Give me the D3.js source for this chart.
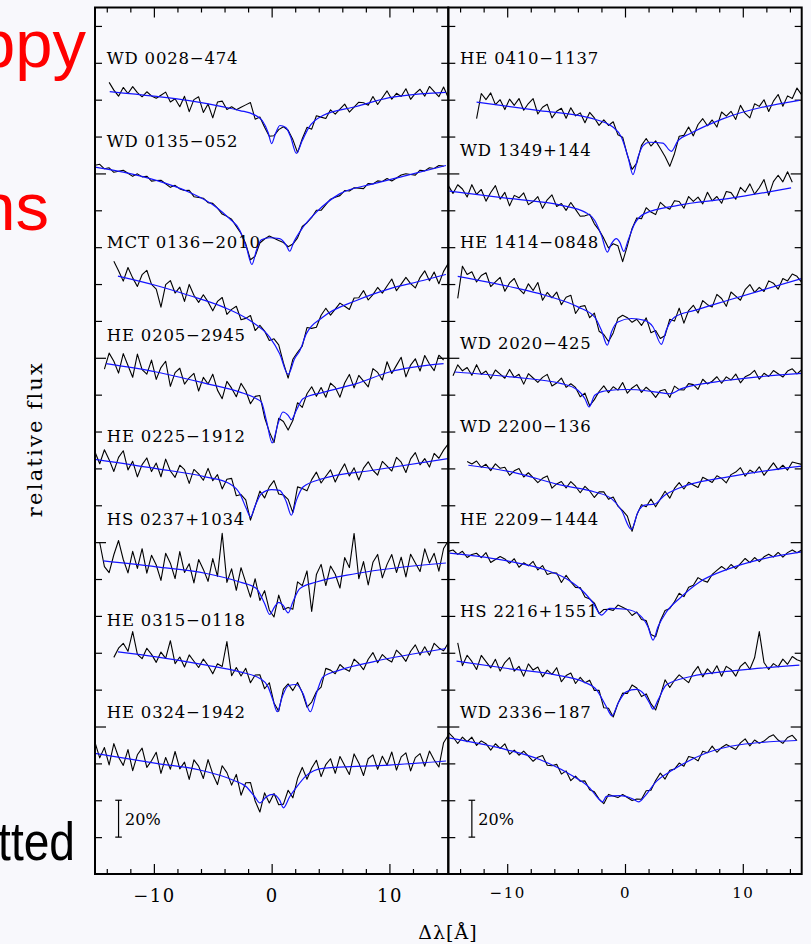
<!DOCTYPE html>
<html>
<head>
<meta charset="utf-8">
<script src="https://cdn.jsdelivr.net/npm/d3@7"></script>
<style>
  body { margin: 0; background: #f8f8fc; }
  svg { display: block; }
</style>
</head>
<body>
<script>
// star names, the first 8 are in the left panel
const stars = [
  "WD 0028\u2212474", "WD 0135\u2212052", "MCT 0136\u22122010", "HE 0205\u22122945",
  "HE 0225\u22121912", "HS 0237+1034", "HE 0315\u22120118", "HE 0324\u22121942",
  "HE 0410\u22121137", "WD 1349+144", "HE 1414\u22120848", "WD 2020\u2212425",
  "WD 2200\u2212136", "HE 2209\u22121444", "HS 2216+1551", "WD 2336\u2212187"
];
// where each name sits (relative flux)
const labelLevel = [4.596, 4.141, 3.593, 3.089, 2.542, 2.092, 1.545, 1.046,
                    4.596, 4.092, 3.593, 3.046, 2.599, 2.092, 1.593, 1.046];

// model fits (blue), [delta lambda, relative flux]
const fits = [
  [[-13.75,4.444],[-10,4.419],[-7,4.395],[-4,4.360],[-2.7,4.341],[-1.5,4.319],[-0.8,4.287],[-0.3,4.222],[0,4.162],[0.3,4.211],[0.7,4.260],[1.2,4.249],[1.6,4.200],[2.1,4.109],[2.6,4.178],[3.1,4.243],[4.35,4.314],[7.2,4.363],[10,4.411],[14.8,4.440]],
  [[-15,4.034],[-12.6,4.007],[-9.8,3.962],[-7,3.898],[-4.7,3.817],[-3.6,3.756],[-2.7,3.691],[-2.15,3.600],[-1.67,3.506],[-1.3,3.582],[-0.87,3.640],[-0.17,3.651],[0.68,3.646],[1.25,3.609],[1.53,3.578],[1.87,3.627],[2.66,3.708],[3.8,3.790],[5.77,3.889],[8.6,3.943],[11.4,3.988],[14.8,4.043]],
  [[-13.05,3.443],[-9.8,3.392],[-7,3.338],[-4.1,3.275],[-1.87,3.203],[-0.17,3.112],[0.68,3.022],[1.4,2.910],[1.95,2.995],[2.4,3.040],[2.95,3.131],[4.36,3.221],[7.2,3.311],[10,3.374],[12.85,3.419],[14.8,3.452]],
  [[-14.05,2.968],[-9.8,2.923],[-5.55,2.860],[-2.7,2.814],[-1.3,2.778],[-0.87,2.760],[-0.45,2.661],[0.05,2.538],[0.54,2.643],[0.96,2.706],[1.4,2.688],[1.67,2.664],[2.1,2.715],[2.66,2.778],[4.36,2.812],[7.2,2.860],[10,2.923],[14.6,2.968]],
  [[-15,2.449],[-9.8,2.399],[-5.55,2.353],[-3.6,2.318],[-2.7,2.263],[-2.15,2.182],[-1.78,2.137],[-1.44,2.191],[-0.87,2.263],[0,2.285],[0.68,2.281],[1.25,2.218],[1.67,2.146],[2.1,2.227],[2.66,2.299],[4.36,2.345],[8.6,2.390],[15,2.453]],
  [[-14.3,1.898],[-9.8,1.866],[-5.55,1.830],[-2.7,1.784],[-1.3,1.749],[-0.6,1.667],[-0.17,1.608],[0.25,1.649],[0.6,1.673],[0.96,1.658],[1.4,1.616],[1.8,1.676],[2.4,1.749],[3.8,1.784],[7.2,1.830],[14.8,1.887]],
  [[-13.05,1.405],[-9.8,1.378],[-5.55,1.333],[-2.7,1.296],[-1,1.261],[-0.3,1.215],[0.11,1.143],[0.48,1.080],[0.9,1.161],[1.4,1.221],[2.1,1.228],[2.66,1.179],[3.28,1.080],[3.8,1.179],[4.36,1.269],[5.77,1.306],[8.6,1.351],[14.8,1.423]],
  [[-15,0.854],[-9.8,0.800],[-6.1,0.764],[-3.3,0.710],[-2.15,0.673],[-1.44,0.619],[-1.0,0.586],[-0.45,0.619],[0.1,0.632],[0.68,0.601],[1.0,0.559],[1.53,0.619],[2.1,0.670],[2.9,0.731],[4.36,0.773],[10,0.791],[14.8,0.813]],
  [[-12.6,4.387],[-7.25,4.341],[-3.0,4.301],[-1.0,4.250],[-0.3,4.196],[0.26,4.088],[0.68,3.994],[1.1,4.088],[1.53,4.151],[2.1,4.169],[3.2,4.164],[3.94,4.120],[4.5,4.178],[5.5,4.215],[8.3,4.296],[14.8,4.396]],
  [[-14.9,3.904],[-9.65,3.863],[-5.4,3.827],[-3.4,3.790],[-2.57,3.745],[-2.0,3.664],[-1.5,3.573],[-1.15,3.619],[-0.73,3.646],[-0.45,3.627],[-0.1,3.577],[0.26,3.637],[0.82,3.727],[1.67,3.782],[4.5,3.827],[8.75,3.863],[14.1,3.922]],
  [[-14.2,3.442],[-9.65,3.384],[-6.8,3.339],[-4.0,3.276],[-2.57,3.221],[-2.0,3.149],[-1.5,3.068],[-1.15,3.140],[-0.6,3.194],[0.54,3.213],[1.67,3.203],[2.38,3.167],[3.09,3.073],[3.5,3.149],[4.22,3.221],[5.9,3.257],[8.75,3.312],[11.6,3.366],[14.98,3.429]],
  [[-14.45,2.923],[-9.65,2.896],[-5.4,2.860],[-4.0,2.824],[-3.4,2.778],[-3.05,2.733],[-2.57,2.797],[-1.72,2.820],[0.26,2.828],[2.24,2.818],[3.8,2.805],[4.8,2.833],[8.75,2.878],[15,2.915]],
  [[-13.3,2.417],[-9.65,2.381],[-5.4,2.309],[-2.57,2.272],[-1.15,2.236],[-0.3,2.173],[0.54,2.069],[1.1,2.164],[1.67,2.201],[2.5,2.206],[3.37,2.255],[4.5,2.291],[8.75,2.354],[15,2.412]],
  [[-14.9,1.940],[-9.65,1.894],[-6.8,1.850],[-4.8,1.795],[-3.4,1.723],[-2.7,1.669],[-2.0,1.604],[-1.3,1.641],[0.1,1.636],[1.25,1.604],[1.95,1.541],[2.38,1.469],[2.8,1.541],[3.5,1.620],[4.65,1.696],[6.3,1.783],[8.75,1.854],[11.6,1.908],[15,1.947]],
  [[-14.3,1.355],[-10.1,1.316],[-5.8,1.279],[-3.55,1.243],[-2.4,1.198],[-1.58,1.107],[-1.1,1.058],[-0.6,1.125],[0.1,1.188],[0.96,1.201],[1.67,1.171],[2.1,1.125],[2.38,1.094],[2.8,1.143],[3.5,1.225],[5.5,1.270],[9.75,1.306],[14.8,1.333]],
  [[-15,0.938],[-10.1,0.875],[-7.25,0.821],[-4.4,0.730],[-3.0,0.667],[-2.3,0.612],[-1.92,0.591],[-1.58,0.621],[-0.45,0.625],[0.68,0.607],[1.16,0.591],[1.67,0.621],[2.66,0.702],[4.08,0.765],[6.9,0.856],[9.75,0.901],[14.55,0.924]]
];

// observed spectra (black): first wavelength, then flux minus fit in percent, every 0.4 A
const obsStep = 0.4;
const obsStart = [-13.8, -15, -13.4, -14.2, -15, -14.6, -13.4, -15,
                  -12.6, -15, -14.2, -14.6, -13.4, -15, -14.2, -15];
const obsResid = [
  [5,1,-2,3,0,4,1,-1,2,0,-1,1,3,-2,0,-4,2,-6,1,3,-5,0,-7,2,3,-1,1,0,2,4,6,-2,1,-1,0,1,-1,0,1,2,-1,1,2,-2,3,0,-2,2,-1,1,3,-2,0,2,1,-1,3,-2,1,4,-1,2,0,4,-2,1,3,-1,4,1,-2,3,-3],
  [1,2,0,1,-1,0,1,0,-1,1,0,1,-1,0,1,0,-1,1,0,0,1,-1,0,1,0,1,0,-1,0,1,0,0,1,0,-1,0,0,1,0,-1,0,1,0,-1,1,0,0,1,-1,0,1,0,-1,1,0,1,0,-1,1,0,1,0,1,-1,0,1,1,0,-1,1,0,1,0,1,0],
  [8,3,-2,6,1,-3,4,7,0,-2,-11,2,5,-1,3,-4,6,1,-2,3,0,-4,2,5,-3,1,4,-2,0,3,-3,2,1,-2,3,4,0,-2,2,1,-1,3,0,-2,2,4,-1,1,3,0,-3,2,1,4,-2,0,3,-1,2,5,-2,1,4,0,-3,2,5,-1,3,-4,2,6],
  [-3,6,2,-4,7,1,-5,8,0,-2,6,-4,3,7,-6,2,5,-3,1,4,-5,3,0,6,-2,-6,4,1,-3,5,2,-4,1,3,-2,0,-3,2,-5,-8,-2,3,-4,2,5,-1,3,-3,4,1,-5,2,6,-2,4,0,-4,5,2,-3,6,-1,3,7,-4,2,5,-2,6,1,-3,5,2],
  [4,-2,6,1,-5,3,7,-3,2,-6,1,5,-2,3,-4,6,0,-3,4,2,-5,3,1,-2,5,-1,3,-4,2,4,-3,1,4,-2,0,3,-3,2,5,-2,1,4,-1,6,0,-3,2,5,-2,1,4,-3,2,6,-1,3,-4,2,5,0,-3,4,1,-2,5,2,-4,3,6,-1,2,-3,4,1,5,8],
  [10,-3,-6,4,12,2,-5,7,-2,9,-4,6,1,-7,8,3,-5,10,-1,4,-6,7,2,-4,9,0,24,-2,6,-5,8,1,-6,5,-3,7,2,-5,4,-2,3,-4,6,1,8,-15,4,9,-3,7,2,-6,10,4,22,-3,6,-7,5,9,-4,3,8,-2,6,-5,7,2,-3,9,1,6,-4,8,12],
  [-3,2,5,1,12,0,-2,4,1,-3,3,0,10,-2,2,-3,4,1,-2,3,0,-4,2,1,15,-3,2,-2,3,-4,1,2,-3,4,0,-2,3,1,-3,2,0,-2,3,1,-3,4,2,-1,3,0,-2,4,1,-3,2,5,-1,3,0,-2,4,1,-3,2,5,-1,3,-2,4,1,-1,3],
  [6,-2,4,-5,7,0,-4,5,-6,3,7,-3,1,6,-5,4,-2,8,-1,3,-6,5,2,-4,7,0,-5,6,3,-3,4,-6,2,5,-2,-5,3,-4,1,-3,2,5,-3,4,7,-2,3,6,-4,2,5,-3,6,1,-4,7,2,-5,4,6,-2,5,0,7,-3,4,6,-4,3,5,-2,6,1,-3,10,14],
  [-9,5,2,6,0,3,-2,4,1,5,-1,3,6,-2,2,4,-3,1,3,-2,4,0,2,-3,3,1,-2,2,0,3,-1,2,0,1,-1,2,3,-2,1,-3,-6,-9,-4,2,1,4,-2,3,5,0,2,-3,4,1,3,-2,5,0,-3,4,2,5,-2,3,6,-1,4,2,7,3],
  [3,-1,4,2,-2,5,0,3,-3,2,6,-1,3,-4,2,1,4,-2,0,3,-3,2,5,-1,1,-2,3,0,-3,-2,1,-2,0,2,1,-1,-3,-7,-2,1,2,-1,3,0,-2,4,1,-1,3,2,-2,4,1,3,-1,5,0,2,-2,4,3,-1,5,2,6,0,3,7,-2,5,8,4,9,3],
  [-12,6,2,4,-1,3,5,-2,1,4,-3,2,5,0,-2,4,1,6,-3,2,0,4,-2,3,5,-4,1,3,-2,2,-3,1,0,-2,2,3,1,-2,0,-3,2,-4,1,2,-1,3,-2,4,-5,1,3,-2,4,1,-1,5,2,-3,4,1,-2,3,5,0,2,-1,4,2,-2,3,1,4,2,-2],
  [-2,4,1,3,-1,5,0,2,-2,3,1,-1,4,0,2,-3,3,1,-1,2,4,-2,0,3,-1,2,1,-2,3,0,-2,1,3,-1,2,0,4,-2,1,3,-1,2,0,-3,1,2,-2,3,0,-1,2,1,-2,3,0,1,3,-1,2,0,3,-2,1,2,4,-1,2,0,3,1,-1,2,3,0,2],
  [2,1,3,0,2,-1,3,1,2,-2,1,3,-1,2,0,-2,1,3,-3,0,2,-1,3,1,-2,2,0,-3,1,2,-1,2,0,1,3,-2,0,2,-1,3,-2,0,2,-3,1,3,-1,2,0,-2,3,1,-1,2,0,-3,1,2,4,-1,2,0,3,-2,1,4,0,2,-1,3,2,1],
  [1,2,0,2,-1,1,2,0,3,-2,0,2,1,-1,2,-2,1,0,3,-1,2,-2,0,1,-3,2,0,-1,1,-2,0,1,-1,2,0,-1,2,1,0,-2,1,-1,2,0,-2,1,2,0,1,3,-1,2,1,3,0,-2,1,2,3,0,2,-1,1,3,0,2,-1,1,2,0,2,-1,1,2,0,1],
  [10,-2,4,1,-3,5,2,-1,4,-2,3,6,-1,2,-3,4,1,3,-2,2,0,4,-3,1,3,-2,2,0,3,-1,2,-3,1,-2,0,2,-1,3,1,-2,2,1,-3,0,4,-2,1,3,0,-3,2,5,-1,3,0,4,-2,3,1,-3,2,4,0,6,20,3,-1,2,0,4,1,5,3,2],
  [3,1,-2,2,0,3,-1,2,1,-2,2,0,3,-2,1,-1,2,0,-2,1,3,-1,0,2,-2,1,-3,1,0,2,-1,1,0,-2,1,0,-1,1,0,-1,1,0,2,-1,1,3,-2,1,0,2,-1,3,1,-2,2,0,3,-1,1,2,0,-2,1,3,-1,2,0,1,3,4,1,-1,2,3,0]
];

const xMajor = [-10, 0, 10];
const xMinor = [-14, -12, -8, -6, -4, -2, 2, 4, 6, 8, 12, 14];
const yMajor = [1, 2, 3, 4];
const yMinor = d3.range(0.4, 4.85, 0.2).filter(v => Math.abs(v - Math.round(v)) > 0.01);
// the "20%" scale bar
const barAt = -13, barLow = 0.4, barHigh = 0.6;

const width = 811;
const height = 944;
const serif = "'DejaVu Serif', serif";
const sans = "'Liberation Sans', Arial, sans-serif";

const svg = d3
  .select("body")
  .append("svg")
  .attr("width", width)
  .attr("height", height)
  .style("background", "#f8f8fc");

// bits of slide text that sit behind the figure (cut by the left edge in the original too)
svg.append("text").attr("x", 86).attr("y", 67).attr("text-anchor", "end")
  .attr("font-family", sans).attr("font-size", 67).attr("fill", "#ff0000").text("ppy");
svg.append("text").attr("x", 49).attr("y", 230).attr("text-anchor", "end")
  .attr("font-family", sans).attr("font-size", 67).attr("fill", "#ff0000").text("ns");
svg.append("text").attr("transform", "translate(75,860) scale(0.87,1)").attr("text-anchor", "end")
  .attr("font-family", sans).attr("font-size", 53).attr("fill", "#000").text("tted");

const y = d3.scaleLinear().domain([0.2, 4.9]).range([874, 7.5]);

const panels = [
  { x: d3.scaleLinear().domain([-15, 15]).range([95, 448.3]), first: 0, tickFont: 18, tickDrop: 28 },
  { x: d3.scaleLinear().domain([-15, 15]).range([448.3, 801.7]), first: 8, tickFont: 15, tickDrop: 24 }
];

panels.forEach((p) => {
  const x = p.x;
  const g = svg.append("g");

  //ticks on all four sides, pointing inwards
  const addTicks = (axis, translate, values, size) => {
    const a = g
      .append("g")
      .attr("transform", translate)
      .call(axis.tickValues(values).tickSize(size).tickFormat(""));
    a.select(".domain").remove();
    a.selectAll("line").attr("stroke", "#000").attr("stroke-width", 1.2);
  };
  addTicks(d3.axisBottom(x), `translate(0,${y(0.2)})`, xMinor, -5);
  addTicks(d3.axisBottom(x), `translate(0,${y(0.2)})`, xMajor, -10);
  addTicks(d3.axisTop(x), `translate(0,${y(4.9)})`, xMinor, -5);
  addTicks(d3.axisTop(x), `translate(0,${y(4.9)})`, xMajor, -10);
  addTicks(d3.axisLeft(y), `translate(${x(-15)},0)`, yMinor, -7);
  addTicks(d3.axisLeft(y), `translate(${x(-15)},0)`, yMajor, -11);
  addTicks(d3.axisRight(y), `translate(${x(15)},0)`, yMinor, -7);
  addTicks(d3.axisRight(y), `translate(${x(15)},0)`, yMajor, -11);

  //tick labels under the panel
  const labels = g
    .append("g")
    .attr("transform", `translate(0,${y(0.2)})`)
    .call(d3.axisBottom(x).tickValues(xMajor).tickSize(0));
  labels.select(".domain").remove();
  labels
    .selectAll("text")
    .attr("y", p.tickDrop)
    .attr("dy", 0)
    .attr("font-family", serif)
    .attr("font-size", p.tickFont)
    .attr("letter-spacing", 1.5)
    .attr("fill", "#000");

  const fitLine = d3
    .line()
    .x((d) => x(d[0]))
    .y((d) => y(d[1]))
    .curve(d3.curveMonotoneX);
  const obsLine = d3
    .line()
    .x((d) => x(d[0]))
    .y((d) => y(d[1]));

  for (let i = p.first; i < p.first + 8; i++) {
    const fit = fits[i];
    const model = d3
      .scaleLinear()
      .domain(fit.map((d) => d[0]))
      .range(fit.map((d) => d[1]))
      .clamp(true);
    const obs = obsResid[i].map((r, j) => {
      const wl = obsStart[i] + j * obsStep;
      return [wl, model(wl) + r / 100];
    });

    g.append("path")
      .attr("d", obsLine(obs))
      .attr("fill", "none")
      .attr("stroke", "#000")
      .attr("stroke-width", 1.1)
      .attr("stroke-linejoin", "round");
    g.append("path")
      .attr("d", fitLine(fit))
      .attr("fill", "none")
      .attr("stroke", "#1414ff")
      .attr("stroke-width", 1.2);

    g.append("text")
      .attr("x", x(-14))
      .attr("y", y(labelLevel[i]))
      .attr("font-family", serif)
      .attr("font-size", 16.5)
      .attr("letter-spacing", 0.8)
      .text(stars[i]);
  }

  //20% bar
  g.append("line")
    .attr("x1", x(barAt)).attr("x2", x(barAt))
    .attr("y1", y(barLow)).attr("y2", y(barHigh))
    .attr("stroke", "#000").attr("stroke-width", 1.2);
  [barLow, barHigh].forEach((v) => {
    g.append("line")
      .attr("x1", x(barAt - 0.28)).attr("x2", x(barAt + 0.28))
      .attr("y1", y(v)).attr("y2", y(v))
      .attr("stroke", "#000").attr("stroke-width", 1.2);
  });
  g.append("text")
    .attr("x", x(barAt + 0.55))
    .attr("y", y(0.466))
    .attr("font-family", serif)
    .attr("font-size", 16)
    .text("20%");

  //frame
  g.append("rect")
    .attr("x", x(-15))
    .attr("y", y(4.9))
    .attr("width", x(15) - x(-15))
    .attr("height", y(0.2) - y(4.9))
    .attr("fill", "none")
    .attr("stroke", "#000")
    .attr("stroke-width", 2);
});

svg.append("text")
  .attr("transform", "translate(42,439) rotate(-90)")
  .attr("text-anchor", "middle")
  .attr("font-family", serif)
  .attr("font-size", 21)
  .attr("letter-spacing", 2.2)
  .text("relative flux");

svg.append("text")
  .attr("x", 448)
  .attr("y", 939)
  .attr("text-anchor", "middle")
  .attr("font-family", serif)
  .attr("font-size", 19)
  .attr("letter-spacing", 1)
  .text("\u0394\u03bb[\u00c5]");
</script>
</body>
</html>
